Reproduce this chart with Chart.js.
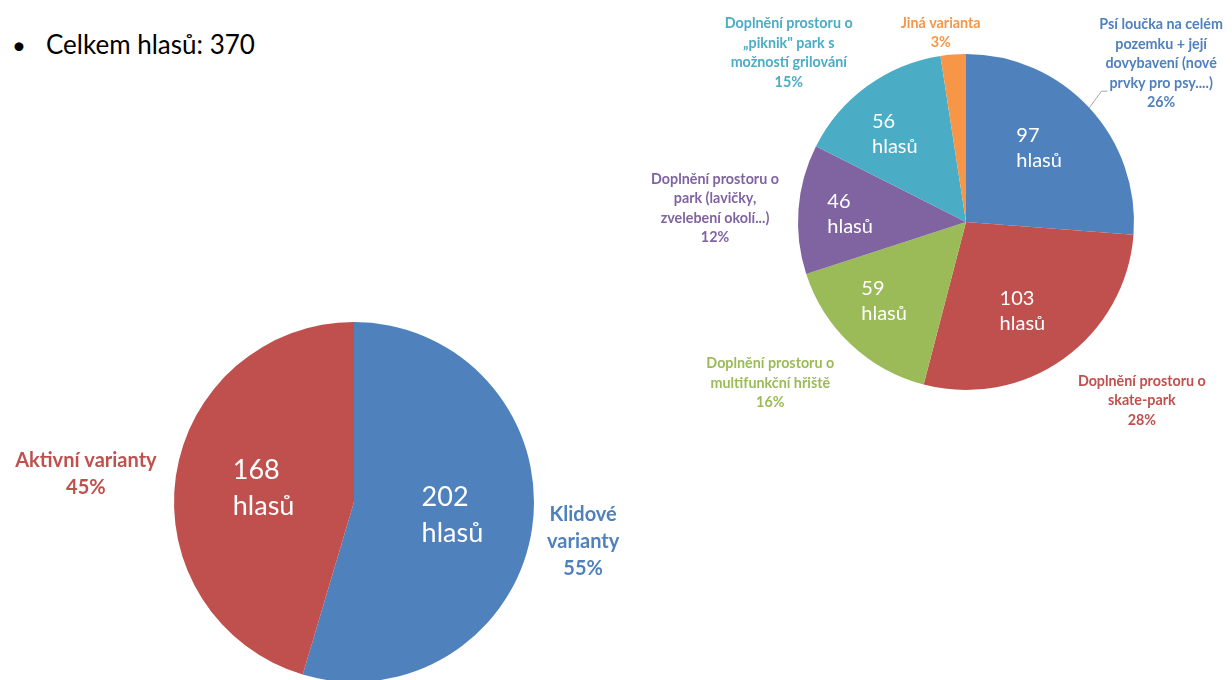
<!DOCTYPE html>
<html lang="cs">
<head>
  <meta charset="UTF-8" />
  <title>Hlasování - varianty</title>
  <script src="https://cdn.jsdelivr.net/npm/chart.js"></script>
  <style>
    html, body { margin: 0; padding: 0; width: 1232px; height: 680px; overflow: hidden; background: #fff; font-family: Lato, "Noto Sans", sans-serif; }
    .celkem { position: absolute; left: 12px; top: 28px; font-size: 26px; color: #000; }
    .celkem .bod { display: inline-block; width: 34px; font-size: 24px; }
    .graf { position: absolute; left: 0; top: 0; width: 1232px; }
    #levy { height: 720px; }
    #pravy { height: 680px; }
  </style>
</head>
<body>

  <div class="celkem"><span class="bod">•</span>Celkem hlasů: 370</div>

  <div class="graf" id="levy"><canvas id="grafLevy"></canvas></div>
  <div class="graf" id="pravy"><canvas id="grafPravy"></canvas></div>

  <script>
    // levý graf - souhrn
    const kategorieLevy = ['Klidové\nvarianty', 'Aktivní varianty'];
    const hlasyLevy = [202, 168];
    const procentaLevy = ['55%', '45%'];
    const barvyLevy = ['#4F81BD', '#C0504D'];

    // pravý graf - jednotlivé varianty
    const kategoriePravy = [
      'Psí loučka na celém\npozemku + její\ndovybavení (nové\nprvky pro psy....)',
      'Doplnění prostoru o\nskate-park',
      'Doplnění prostoru o\nmultifunkční hřiště',
      'Doplnění prostoru o\npark (lavičky,\nzvelebení okolí...)',
      'Doplnění prostoru o\n„piknik" park s\nmožností grilování',
      'Jiná varianta'
    ];
    const hlasyPravy = [97, 103, 59, 46, 56, 9];
    const procentaPravy = ['26%', '28%', '16%', '12%', '15%', '3%'];
    const barvyPravy = ['#4F81BD', '#C0504D', '#9BBB59', '#8064A2', '#4BACC6', '#F79646'];

    // popisky (kreslí se podle úhlů výsečí)
    const popisky = {
      id: 'popisky',
      afterDatasetsDraw(chart, args, opt) {
        const ctx = chart.ctx;
        const meta = chart.getDatasetMeta(0);
        const ds = chart.data.datasets[0];
        ctx.save();
        meta.data.forEach((arc, i) => {
          const p = arc.getProps(['x', 'y', 'startAngle', 'endAngle', 'outerRadius'], true);
          const uhel = (p.startAngle + p.endAngle) / 2;
          const ux = Math.cos(uhel), uy = Math.sin(uhel);

          // uvnitř výseče (jen u dost velkých)
          if (p.endAngle - p.startAngle > 0.3) {
            ctx.font = opt.vnitrniFont;
            ctx.fillStyle = '#fff';
            ctx.textAlign = 'left';
            ctx.textBaseline = 'middle';
            const radky = [String(ds.data[i]), 'hlasů'];
            const sirka = Math.max(...radky.map(r => ctx.measureText(r).width));
            const ax = p.x + ux * p.outerRadius * opt.vnitrniPodil + opt.vnitrniPosunX;
            const ay = p.y + uy * p.outerRadius * opt.vnitrniPodil;
            radky.forEach((r, k) => {
              ctx.fillText(r, ax - sirka / 2, ay + (k - (radky.length - 1) / 2) * opt.vnitrniRadek);
            });
          }

          // vně výseče
          ctx.font = opt.vnejsiFont;
          ctx.fillStyle = ds.backgroundColor[i];
          ctx.textAlign = 'center';
          ctx.textBaseline = 'middle';
          const vRadky = chart.data.labels[i].split('\n').concat(opt.procenta[i]);
          const w = Math.max(...vRadky.map(r => ctx.measureText(r).width));
          const h = vRadky.length * opt.vnejsiRadek;
          const d = p.outerRadius + opt.mezera + Math.abs(ux) * w / 2 + Math.abs(uy) * h / 2;
          const posun = (opt.posuny && opt.posuny[i]) || [0, 0];
          const cx = p.x + ux * d + posun[0];
          const cy = p.y + uy * d + posun[1];
          const radekY = k => cy + (k - (vRadky.length - 1) / 2) * opt.vnejsiRadek;
          vRadky.forEach((r, k) => ctx.fillText(r, cx, radekY(k)));

          // vodicí čára k předposlednímu řádku
          if (opt.vodici && opt.vodici[i]) {
            const k = vRadky.length - 2;
            const ex = p.x + ux * p.outerRadius, ey = p.y + uy * p.outerRadius;
            const lx = cx - ctx.measureText(vRadky[k]).width / 2 - 2;
            const ly = radekY(k) + 8;
            ctx.strokeStyle = '#A6A6A6';
            ctx.lineWidth = 1;
            ctx.beginPath();
            ctx.moveTo(ex, ey);
            ctx.lineTo(lx - 6, ly);
            ctx.lineTo(lx, ly);
            ctx.stroke();
          }
        });
        ctx.restore();
      }
    };

    const spolecne = {
      responsive: true,
      maintainAspectRatio: false,
      animation: false,
      plugins: { legend: { display: false }, tooltip: { enabled: false } }
    };

    new Chart(document.getElementById('grafLevy'), {
      type: 'pie',
      data: {
        labels: kategorieLevy,
        datasets: [{ data: hlasyLevy, backgroundColor: barvyLevy, borderWidth: 0 }]
      },
      options: {
        ...spolecne,
        layout: { padding: { left: 174, right: 698, top: 322, bottom: 38 } },
        plugins: {
          ...spolecne.plugins,
          popisky: {
            vnitrniFont: '27px Lato', vnitrniRadek: 36, vnitrniPodil: 0.53, vnitrniPosunX: 4,
            vnejsiFont: 'bold 20px Lato', vnejsiRadek: 27, mezera: 14,
            procenta: procentaLevy,
            posuny: [[-4, 6], [-3, 11]]
          }
        }
      },
      plugins: [popisky]
    });

    new Chart(document.getElementById('grafPravy'), {
      type: 'pie',
      data: {
        labels: kategoriePravy,
        datasets: [{ data: hlasyPravy, backgroundColor: barvyPravy, borderWidth: 0 }]
      },
      options: {
        ...spolecne,
        layout: { padding: { left: 798, right: 98, top: 54, bottom: 290 } },
        plugins: {
          ...spolecne.plugins,
          popisky: {
            vnitrniFont: '20px Lato', vnitrniRadek: 25, vnitrniPodil: 0.65, vnitrniPosunX: -7,
            vnejsiFont: 'bold 14.3px Lato', vnejsiRadek: 19.5, mezera: 10,
            procenta: procentaPravy,
            posuny: [[7, 16], [37, -16], [-29, -16], [-7, 5], [-32, 31], [-10, 11]],
            vodici: [true, false, false, false, false, false]
          }
        }
      },
      plugins: [popisky]
    });
  </script>

</body>
</html>
